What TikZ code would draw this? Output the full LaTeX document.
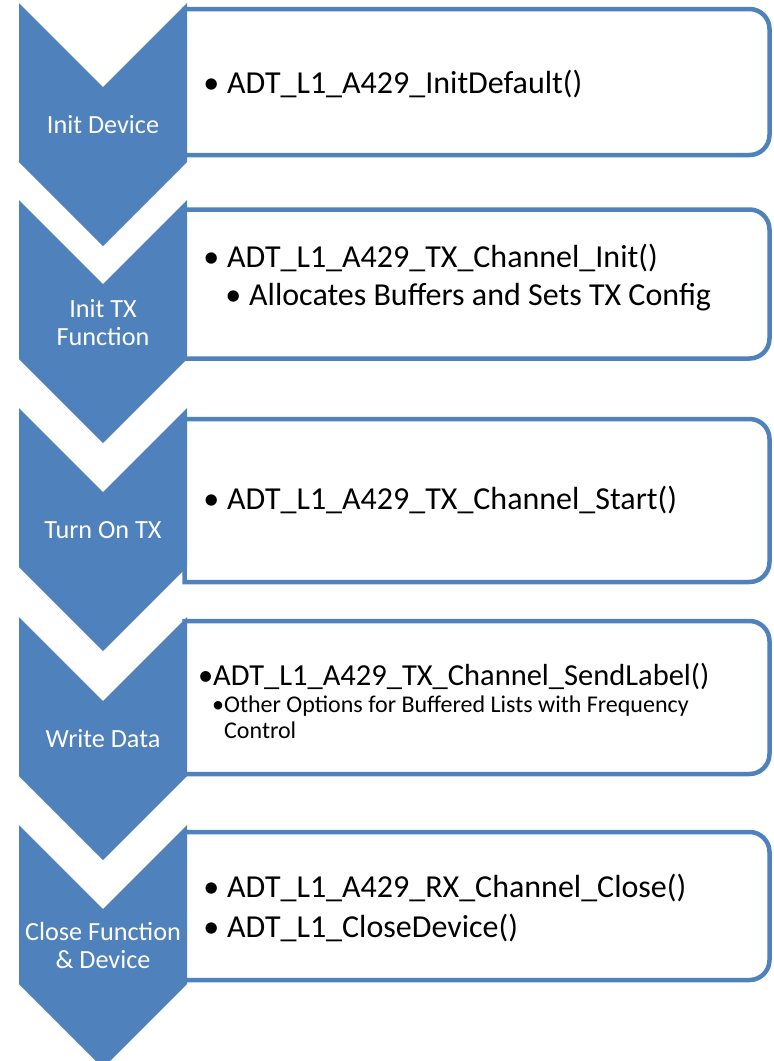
\documentclass[tikz,border=0pt]{standalone}
\usepackage{fontspec}
\setmainfont{Carlito}
\definecolor{accent}{HTML}{4F81BD}
\newcommand{\infobox}[2]{%
  \draw[box] (184.5,#1) -- (749.5,#1) arc[start angle=-90,end angle=0,radius=20]
    -- (769.5,#2-20) arc[start angle=0,end angle=90,radius=20] -- (184.5,#2) -- cycle;}
\newcommand{\chevron}[1]{%
  \fill[chev] (19,#1) -- (103,#1+84) -- (187,#1) -- (187,#1+159) -- (103,#1+243) -- (19,#1+159) -- cycle;}
\begin{document}
\begin{tikzpicture}[x=1pt,y=-1pt,
  box/.style={draw=accent,line width=4.5pt,fill=white},
  chev/.style={fill=accent},
  lbl/.style={text=white,font=\fontsize{26.2}{28}\selectfont,anchor=base,inner sep=0pt,align=center},
  item/.style={anchor=base west,inner sep=0pt,font=\fontsize{32}{38}\selectfont},
  smallitem/.style={anchor=base west,inner sep=0pt,font=\fontsize{24}{26}\selectfont,align=left}]
\useasboundingbox (0,0) rectangle (774,1061);
% boxes
\infobox{9}{155}
\infobox{209.5}{358.5}
\infobox{419}{582}
\infobox{621}{774}
\infobox{832}{980}
% chevrons
\chevron{3}
\chevron{200}
\chevron{408}
\chevron{617}
\chevron{825}
% labels (multi-line nodes are anchored at the baseline of their last line)
\node[lbl] (l1) at (103,133) {Init Device};
\node[lbl] (l2) at (103,345) {Init TX\\Function};
\node[lbl] (l3) at (103,538) {Turn On TX};
\node[lbl] (l4) at (103,747) {Write Data};
\node[lbl] (l5) at (103,968) {Close Function\\\& Device};
% box texts
\node[item] (t1) at (227,93) {\llap{•\hspace{8pt}}ADT\_L1\_A429\_InitDefault()};
\node[item] (t2a) at (227,267) {\llap{•\hspace{8pt}}ADT\_L1\_A429\_TX\_Channel\_Init()};
\node[item] (t2b) at (249,305) {\llap{•\hspace{8pt}}Allocates Buffers and Sets TX Config};
\node[item] (t3) at (227,509) {\llap{•\hspace{8pt}}ADT\_L1\_A429\_TX\_Channel\_Start()};
\node[item,font=\fontsize{30.5}{36}\selectfont] (t4a) at (213,685) {\llap{•}ADT\_L1\_A429\_TX\_Channel\_SendLabel()};
\node[smallitem] (t4b) at (224,738) {\llap{•}Other Options for Buffered Lists with Frequency\\Control};
\node[item] (t5a) at (227,897) {\llap{•\hspace{8pt}}ADT\_L1\_A429\_RX\_Channel\_Close()};
\node[item] (t5b) at (227,937) {\llap{•\hspace{8pt}}ADT\_L1\_CloseDevice()};
\end{tikzpicture}
\end{document}
